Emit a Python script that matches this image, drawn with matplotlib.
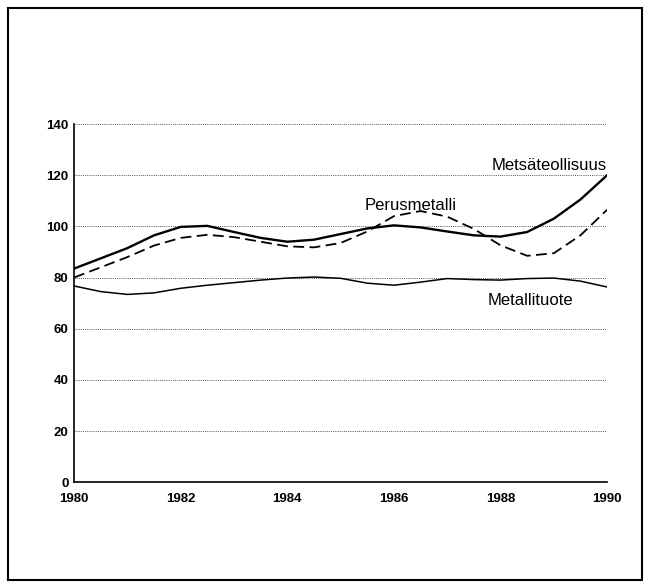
import matplotlib
matplotlib.use('Agg')
import matplotlib.pyplot as plt
from matplotlib.patches import Rectangle

plt.rcParams['font.family'] = ['Liberation Sans', 'DejaVu Sans']

# Values at half-year steps
years = [1980, 1980.5, 1981, 1981.5, 1982, 1982.5, 1983, 1983.5, 1984, 1984.5,
         1985, 1985.5, 1986, 1986.5, 1987, 1987.5, 1988, 1988.5, 1989, 1989.5, 1990]
metsateollisuus = [83.5, 87.5, 91.5, 96.5, 99.8, 100.2, 97.8, 95.5, 94.0, 94.8,
                   97.0, 99.2, 100.4, 99.6, 98.0, 96.5, 96.0, 97.8, 103.0, 110.5, 120.0]
perusmetalli = [80.0, 84.0, 88.0, 92.5, 95.5, 96.7, 95.8, 94.0, 92.2, 91.8,
                93.5, 98.0, 104.0, 106.0, 103.8, 99.0, 92.6, 88.5, 89.5, 96.5, 106.5]
metallituote = [76.7, 74.5, 73.4, 74.0, 75.8, 77.0, 78.0, 79.0, 79.8, 80.2,
                79.7, 77.8, 77.0, 78.2, 79.6, 79.2, 79.0, 79.6, 79.8, 78.6, 76.3]

x_ticks = [1980, 1982, 1984, 1986, 1988, 1990]
y_ticks = [0, 20, 40, 60, 80, 100, 120, 140]

fig = plt.figure(figsize=(6.5, 5.88), dpi=100)
ax = fig.add_axes([0.114, 0.180, 0.820, 0.609])

# dotted grid lines
for y in y_ticks[1:]:
    ax.axhline(y, color='#555555', linestyle=(0, (1, 1.2)), linewidth=0.7, zorder=1)

ax.plot(years, metsateollisuus, color='black', linewidth=1.7, zorder=3)
ax.plot(years, perusmetalli, color='black', linewidth=1.3, linestyle=(0, (6, 3)), zorder=3)
ax.plot(years, metallituote, color='black', linewidth=1.1, zorder=3)

ax.text(1990, 121, 'Metsäteollisuus', ha='right', va='bottom', fontsize=12)
ax.text(1985.45, 108, 'Perusmetalli', ha='left', va='center', fontsize=12)
ax.text(1987.75, 71, 'Metallituote', ha='left', va='center', fontsize=12)

ax.set_xlim(1980, 1990)
ax.set_ylim(0, 140)
ax.set_xticks(x_ticks)
ax.set_yticks(y_ticks)
ax.tick_params(length=0, labelsize=9.5)
ax.tick_params(axis='x', pad=8)
ax.tick_params(axis='y', pad=4)
for lab in ax.get_xticklabels() + ax.get_yticklabels():
    lab.set_fontweight('bold')
ax.spines['top'].set_visible(False)
ax.spines['right'].set_visible(False)
ax.spines['left'].set_linewidth(1.2)
ax.spines['bottom'].set_linewidth(1.2)

# frame around the whole figure
fig.patches.append(Rectangle((8 / 650, 8 / 588), 634 / 650, 572 / 588,
                             transform=fig.transFigure, fill=False,
                             edgecolor='black', linewidth=1.5))

fig.savefig('out.png', dpi=100)
